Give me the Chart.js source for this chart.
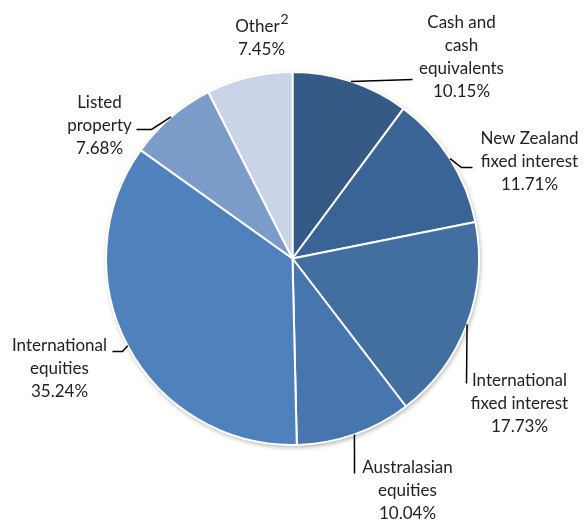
<!DOCTYPE html>
<html>
<head>
<meta charset="utf-8">
<script src="https://cdn.jsdelivr.net/npm/chart.js@4.4.1/dist/chart.umd.min.js"></script>
<style>
html,body{margin:0;padding:0;background:#fff;}
#wrap{width:584px;height:522px;position:relative;}
</style>
</head>
<body>
<div id="wrap"><canvas id="c" width="584" height="522"></canvas></div>
<script>
const categories = ["Cash and cash equivalents","New Zealand fixed interest","International fixed interest","Australasian equities","International equities","Listed property","Other"];
const labelLines = [["Cash and","cash","equivalents"],["New Zealand","fixed interest"],["International","fixed interest"],["Australasian","equities"],["International","equities"],["Listed","property"],["Other"]];
const values = [10.15, 11.71, 17.73, 10.04, 35.24, 7.68, 7.45];
const colors = ["#355a85","#3a6495","#426ea0","#4775ad","#4f81bd","#7b9cc9","#c9d4e6"];

// label layout: text centre and first-line y relative to pie centre; leader path points relative to centre
const layout = [
  {tx:169, ty:-236, leader:[[120,-179]]},
  {tx:237, ty:-120, leader:[[169,-91],[180,-91]]},
  {tx:227, ty:122, leader:[[174,125]]},
  {tx:115, ty:209, leader:[[62,215]]},
  {tx:-233, ty:87, leader:[[-170,93],[-180,93]]},
  {tx:-193, ty:-156, leader:[[-141,-129],[-156,-129]]},
  {tx:-31, ty:-232, leader:null, sup:"2"}
];

const FONT = "17px Lato";
const SUPFONT = "14px Lato";
const LH = 23;

const shadowPlugin = {
  id:'shadow',
  beforeDatasetsDraw(chart){
    const arc = chart.getDatasetMeta(0).data[0];
    if(!arc) return;
    const ctx = chart.ctx;
    ctx.save();
    ctx.shadowColor = 'rgba(0,0,0,0.35)';
    ctx.shadowBlur = 5;
    ctx.shadowOffsetX = 1;
    ctx.shadowOffsetY = 2;
    ctx.beginPath();
    ctx.arc(arc.x, arc.y, arc.outerRadius, 0, Math.PI*2);
    ctx.fillStyle = '#ffffff';
    ctx.fill();
    ctx.restore();
  }
};

const labelPlugin = {
  id:'labels',
  afterDatasetsDraw(chart){
    const ctx = chart.ctx;
    const meta = chart.getDatasetMeta(0);
    ctx.save();
    meta.data.forEach((arc, i) => {
      const cx = arc.x, cy = arc.y;
      const mid = (arc.startAngle + arc.endAngle)/2;
      const ax = cx + Math.cos(mid)*arc.outerRadius;
      const ay = cy + Math.sin(mid)*arc.outerRadius;
      const L = layout[i];
      if (L.leader){
        ctx.beginPath();
        ctx.moveTo(ax, ay);
        L.leader.forEach(p => ctx.lineTo(cx+p[0], cy+p[1]));
        ctx.strokeStyle = '#000';
        ctx.lineWidth = 1.5;
        ctx.stroke();
      }
      ctx.fillStyle = '#222';
      ctx.font = FONT;
      ctx.textAlign = 'center';
      ctx.textBaseline = 'middle';
      const lines = labelLines[i].concat([values[i].toFixed(2)+'%']);
      lines.forEach((t, k) => {
        const x = cx + L.tx, y = cy + L.ty + k*LH;
        if (k===0 && L.sup){
          const w = ctx.measureText(t).width;
          ctx.font = SUPFONT;
          const sw = ctx.measureText(L.sup).width;
          ctx.font = FONT;
          ctx.textAlign = 'left';
          const x0 = x - (w+sw)/2;
          ctx.fillText(t, x0, y);
          ctx.font = SUPFONT;
          ctx.fillText(L.sup, x0 + w + 1, y - 7);
          ctx.font = FONT;
          ctx.textAlign = 'center';
        } else {
          ctx.fillText(t, x, y);
        }
      });
    });
    ctx.restore();
  }
};

new Chart(document.getElementById('c'), {
  type:'pie',
  data:{
    labels: categories,
    datasets:[{
      data: values,
      backgroundColor: colors,
      borderColor:'#ffffff',
      borderWidth:2
    }]
  },
  options:{
    responsive:false,
    animation:false,
    events:[],
    layout:{padding:{top:71,bottom:76,left:105,right:104}},
    plugins:{legend:{display:false},tooltip:{enabled:false}}
  },
  plugins:[shadowPlugin, labelPlugin]
});
</script>
</body>
</html>
